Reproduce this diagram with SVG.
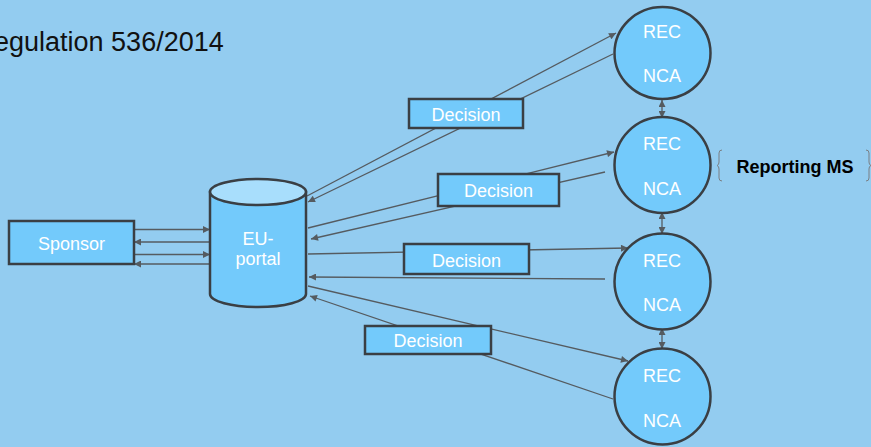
<svg xmlns="http://www.w3.org/2000/svg" width="871" height="447" viewBox="0 0 871 447">
<style>
.node{fill:#73CAFB;stroke:#3A3F44;stroke-width:2.5}
.top{fill:#A8DEFC;stroke:#3A3F44;stroke-width:2.5}
.lbl{font-family:"Liberation Sans",Arial,sans-serif;font-size:18px;fill:#FFFFFF;text-anchor:middle}
.cl{font-family:"Liberation Sans",Arial,sans-serif;font-size:18px;fill:#FFFFFF;text-anchor:middle}
.ln{stroke:#555B60;stroke-width:1.3;fill:none}
.brace{stroke:#7A7F84;stroke-width:1;fill:none}
</style>
<defs>
<marker id="ah" viewBox="0 0 10 10" refX="10" refY="5" markerWidth="9" markerHeight="7" markerUnits="userSpaceOnUse" orient="auto-start-reverse">
<path d="M0,0 L10,5 L0,10 Z" fill="#555B60"/>
</marker>
</defs>
<rect x="0" y="0" width="871" height="447" fill="#93CCF0"/>
<text x="-6" y="51" font-family="'Liberation Sans',Arial,sans-serif" font-size="27" fill="#111111">egulation 536/2014</text>

<g id="connectors">
<line class="ln" x1="134" y1="229.5" x2="210" y2="229.5" marker-end="url(#ah)"/>
<line class="ln" x1="210" y1="242" x2="134" y2="242" marker-end="url(#ah)"/>
<line class="ln" x1="134" y1="254.5" x2="210" y2="254.5" marker-end="url(#ah)"/>
<line class="ln" x1="210" y1="264" x2="134" y2="264" marker-end="url(#ah)"/>

<line class="ln" x1="307" y1="196" x2="616" y2="33" marker-end="url(#ah)"/>
<line class="ln" x1="613" y1="54" x2="308" y2="202" marker-end="url(#ah)"/>
<line class="ln" x1="308" y1="228" x2="614" y2="152" marker-end="url(#ah)"/>
<line class="ln" x1="605" y1="172" x2="311" y2="239" marker-end="url(#ah)"/>
<line class="ln" x1="308" y1="254" x2="628" y2="248" marker-end="url(#ah)"/>
<line class="ln" x1="605" y1="279" x2="309" y2="277" marker-end="url(#ah)"/>
<line class="ln" x1="308" y1="286" x2="628" y2="361" marker-end="url(#ah)"/>
<line class="ln" x1="613" y1="399" x2="310" y2="296" marker-end="url(#ah)"/>

<line class="ln" x1="662" y1="100" x2="662" y2="118" marker-start="url(#ah)" marker-end="url(#ah)"/>
<line class="ln" x1="662" y1="212" x2="662" y2="234" marker-start="url(#ah)" marker-end="url(#ah)"/>
<line class="ln" x1="662" y1="328" x2="662" y2="349" marker-start="url(#ah)" marker-end="url(#ah)"/>
</g>

<g id="sponsor">
<rect class="node" x="9" y="221" width="125" height="43"/>
<text class="lbl" x="71.5" y="250">Sponsor</text>
</g>

<g id="eu-portal">
<path class="node" d="M210,192 L210,294 A48,13 0 0 0 306,294 L306,192 Z"/>
<ellipse class="top" cx="258" cy="192" rx="48" ry="13"/>
<text class="lbl" x="258" y="245">EU-</text>
<text class="lbl" x="258" y="265">portal</text>
</g>

<g id="decision1">
<rect class="node" x="409" y="99" width="114" height="29"/>
<text class="lbl" x="466" y="121">Decision</text>
</g>
<g id="decision2">
<rect class="node" x="438" y="174" width="121" height="32"/>
<text class="lbl" x="498.5" y="197">Decision</text>
</g>
<g id="decision3">
<rect class="node" x="404" y="244" width="125" height="30"/>
<text class="lbl" x="466.5" y="266.5">Decision</text>
</g>
<g id="decision4">
<rect class="node" x="365" y="326" width="126" height="28"/>
<text class="lbl" x="428" y="346.5">Decision</text>
</g>

<g id="ms1">
<ellipse class="node" cx="662.5" cy="53" rx="48" ry="46"/>
<text class="cl" x="662" y="37.5">REC</text>
<text class="cl" x="662" y="82">NCA</text>
</g>
<g id="ms2">
<ellipse class="node" cx="662.5" cy="165" rx="48" ry="48"/>
<text class="cl" x="662" y="150">REC</text>
<text class="cl" x="662" y="195">NCA</text>
</g>
<g id="ms3">
<ellipse class="node" cx="662.5" cy="281.5" rx="48" ry="48"/>
<text class="cl" x="662" y="266.5">REC</text>
<text class="cl" x="662" y="311">NCA</text>
</g>
<g id="ms4">
<ellipse class="node" cx="662.5" cy="396.5" rx="48" ry="48"/>
<text class="cl" x="662" y="381.5">REC</text>
<text class="cl" x="662" y="426.5">NCA</text>
</g>

<g id="reporting-ms">
<path class="brace" d="M722,150 Q719,150 719,153 L719,162 Q719,165 717,165.5 Q719,166 719,169 L719,178 Q719,181 722,181"/>
<path class="brace" d="M866,150 Q869,150 869,153 L869,162 Q869,165 871,165.5 Q869,166 869,169 L869,178 Q869,181 866,181"/>
<text x="795" y="172.5" font-family="'Liberation Sans',Arial,sans-serif" font-size="18" font-weight="bold" fill="#000000" text-anchor="middle">Reporting MS</text>
</g>
</svg>
